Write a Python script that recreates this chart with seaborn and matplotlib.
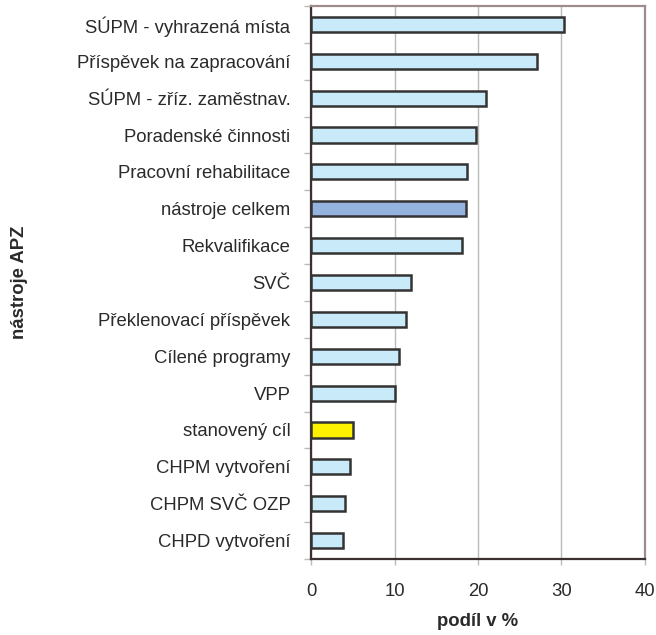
import matplotlib
matplotlib.use("Agg")
import matplotlib.pyplot as plt
import seaborn as sns
import pandas as pd

categories = ["SÚPM - vyhrazená místa", "Příspěvek na zapracování", "SÚPM - zříz. zaměstnav.",
              "Poradenské činnosti", "Pracovní rehabilitace", "nástroje celkem", "Rekvalifikace",
              "SVČ", "Překlenovací příspěvek", "Cílené programy", "VPP", "stanovený cíl",
              "CHPM vytvoření", "CHPM SVČ OZP", "CHPD vytvoření"]
values = [30.3, 27.1, 20.9, 19.7, 18.7, 18.5, 18.1, 12.0, 11.4, 10.5, 10.1, 5.0, 4.7, 4.0, 3.8]
colors = ["#C8EAF9"] * 15
colors[5] = "#95B3DF"
colors[11] = "#FFF200"
x_ticks = [0, 10, 20, 30, 40]

sns.set_theme(style="white")
plt.rcParams["font.family"] = ["Liberation Sans", "DejaVu Sans"]

df = pd.DataFrame({"cat": categories, "val": values})

fig = plt.figure(figsize=(6.56, 6.35), dpi=100)
ax = fig.add_axes([0.4745, 0.1197, 0.5085, 0.8709])
sns.barplot(data=df, y="cat", x="val", hue="cat", palette=colors, legend=False,
            orient="h", width=0.41, saturation=1, edgecolor="#333333", linewidth=1.8,
            ax=ax, zorder=3)

fs = 13.3
tc = "#2A2A2A"
ax.set_xlim(0, 40)
ax.set_xticks(x_ticks)
ax.set_xticklabels([str(t) for t in x_ticks], fontsize=fs, color=tc)
ax.xaxis.grid(True, color="#BBBBBB", linewidth=1, zorder=0)
ax.yaxis.grid(False)
ax.set_ylim(14.5, -0.5)
ax.set_yticks([i + 0.5 for i in range(-1, 15)], minor=True)
ax.tick_params(axis="y", which="major", length=0, labelsize=fs, labelcolor=tc, pad=15)
ax.tick_params(axis="y", which="minor", length=5, color="#BBBBBB", width=1, left=True)
ax.tick_params(axis="x", which="major", length=4, color="#BBBBBB", width=1, bottom=True, pad=13)

for s in ["left", "bottom"]:
    ax.spines[s].set_color("#3A3030")
    ax.spines[s].set_linewidth(1.6)
for s in ["top", "right"]:
    ax.spines[s].set_color("#9E8C8C")
    ax.spines[s].set_linewidth(1.6)

ax.set_xlabel("podíl v %", fontsize=fs, fontweight="bold", color=tc, labelpad=10)
ax.set_ylabel("nástroje APZ", fontsize=fs, fontweight="bold", color=tc)
ax.yaxis.set_label_coords(-0.85, 0.5)

fig.savefig("out.png", dpi=100)
